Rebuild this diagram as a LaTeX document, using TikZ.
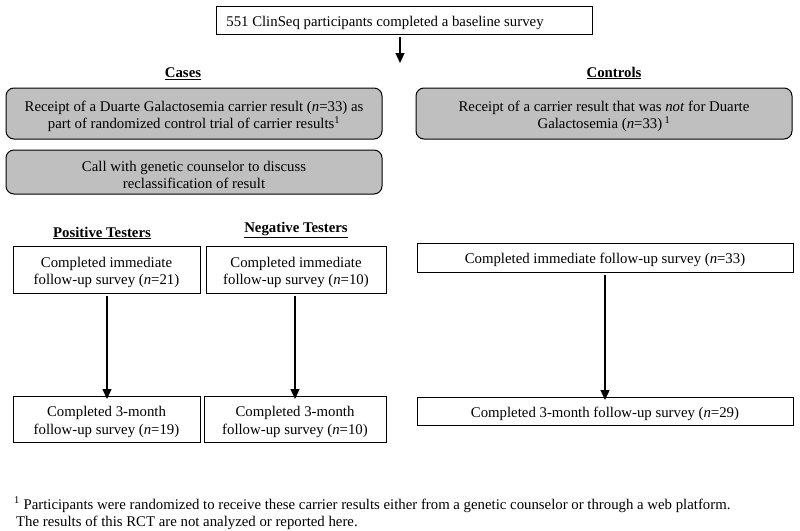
\documentclass[tikz,border=0pt]{standalone}
\usepackage{fontspec}
\setmainfont{Liberation Serif}
\usetikzlibrary{arrows.meta}
\begin{document}
\begin{tikzpicture}[x=1pt,y=-1pt,
  every node/.style={font=\fontsize{14.8}{17.5}\selectfont, inner sep=0pt, yshift=-3pt},
  plainbox/.style={draw=black, line width=1pt, fill=white},
  graybox/.style={draw=black, line width=1pt, fill=gray!50, rounded corners=8pt},
  head/.style={font=\fontsize{14.8}{17.5}\selectfont\bfseries},
  fnote/.style={anchor=base west, yshift=0pt, font=\fontsize{14.8}{17.5}\selectfont},
  arr/.style={-{Triangle[length=10pt,width=9pt]}, line width=1.3pt}
]
\useasboundingbox (0,0) rectangle (800,530);
\fill[white] (0,0) rectangle (800,530);

% top box
\draw[plainbox] (216,6) rectangle (592,34);
\node (top) at (385,20) {551 ClinSeq participants completed a baseline survey};
\coordinate (topb) at (400,34);
\coordinate (topend) at (400,60);

\node[head] (cases) at (183,71) {\underline{Cases}};
\node[head] (controls) at (614,70) {\underline{Controls}};

% cases boxes
\draw[graybox] (6,88) rectangle (382,139);
\node[align=center] (c1) at (194,113.5) {Receipt of a Duarte Galactosemia carrier result (\textit{n}=33) as\\part of randomized control trial of carrier results\textsuperscript{1}};
\draw[graybox] (6,150) rectangle (382,194);
\node[align=center] (c2) at (194,172) {Call with genetic counselor to discuss\\reclassification of result};

% controls box
\draw[graybox] (416,88) rectangle (792,139);
\node[align=center] (k1) at (604,113.5) {Receipt of a carrier result that was \textit{not} for Duarte\\Galactosemia (\textit{n}=33)\,\textsuperscript{1}};

\node[head] (pos) at (102,230) {\underline{Positive Testers}};
\node[head] (neg) at (296,227) {\underline{Negative Testers}};

% positive
\draw[plainbox] (13,246) rectangle (200,293);
\node[align=center] (p1) at (106.5,269.5) {Completed immediate\\follow-up survey (\textit{n}=21)};
\draw[plainbox] (13,396) rectangle (200,442);
\node[align=center] (p2) at (106.5,419) {Completed 3-month\\follow-up survey (\textit{n}=19)};

% negative
\draw[plainbox] (206,246) rectangle (386,293);
\node[align=center] (n1) at (296,269.5) {Completed immediate\\follow-up survey (\textit{n}=10)};
\draw[plainbox] (204,396) rectangle (386,442);
\node[align=center] (n2) at (295,419) {Completed 3-month\\follow-up survey (\textit{n}=10)};

% controls
\draw[plainbox] (417,243) rectangle (793,272);
\node (k2) at (605,257) {Completed immediate follow-up survey (\textit{n}=33)};
\draw[plainbox] (417,397) rectangle (793,425);
\node (k3) at (605,411) {Completed 3-month follow-up survey (\textit{n}=29)};

% arrows
\draw[arr] (topb) -- (topend);
\coordinate (pa) at (107,293); \coordinate (pb) at (107,396);
\coordinate (na) at (295,293); \coordinate (nb) at (295,396);
\coordinate (ka) at (605,272); \coordinate (kb) at (605,397);
\draw[arr] (pa) -- (pb);
\draw[arr] (na) -- (nb);
\draw[arr] (ka) -- (kb);

% footnote
\node[fnote] (fn1) at (14,506) {\textsuperscript{1} Participants were randomized to receive these carrier results either from a genetic counselor or through a web platform.};
\node[fnote] (fn2) at (16,523) {The results of this RCT are not analyzed or reported here.};
\end{tikzpicture}
\end{document}
